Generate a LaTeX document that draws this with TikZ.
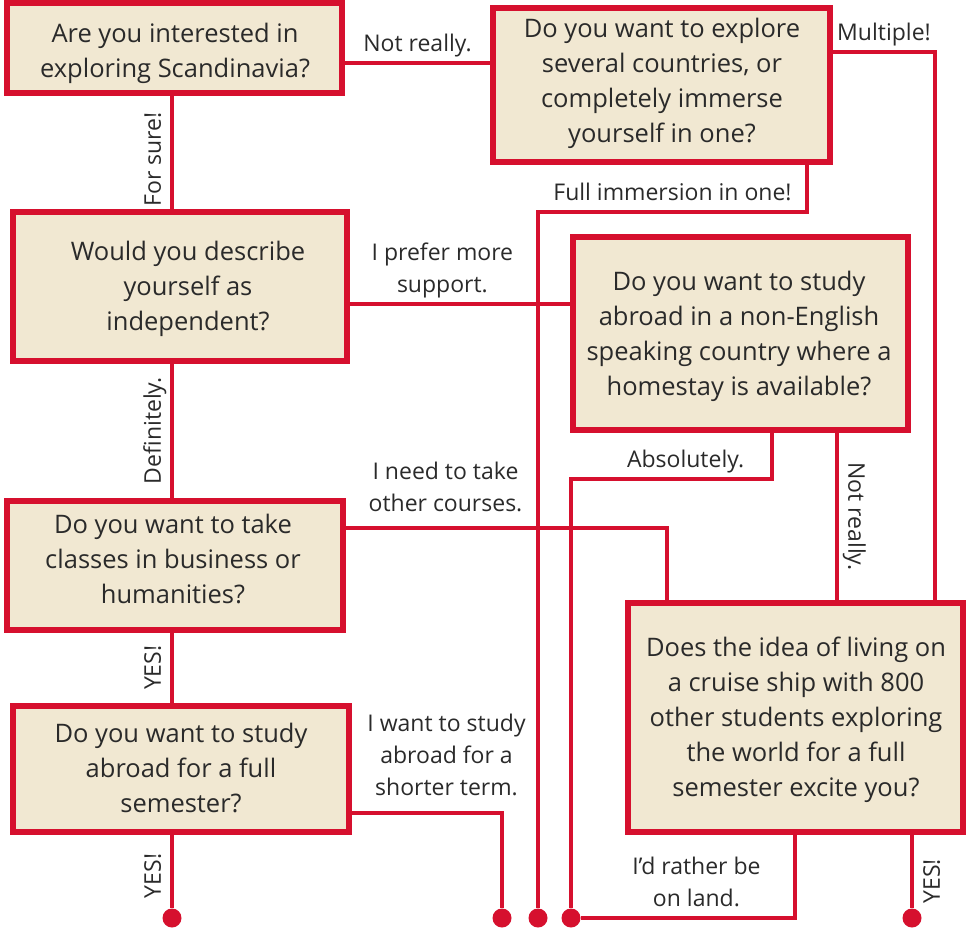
\documentclass[tikz,border=0pt]{standalone}
\usepackage{fontspec}
\setmainfont{Open Sans}
\definecolor{flowred}{HTML}{D6102E}
\definecolor{flowtan}{HTML}{F1E8D2}
\definecolor{flowink}{HTML}{2A2A2A}

\begin{document}
\begin{tikzpicture}[x=1pt, y=-1pt,
  question/.style={draw=flowred, line width=6pt, fill=flowtan, inner sep=0pt},
  qtext/.style={text=flowink, align=center, inner sep=0pt,
    font=\fontsize{25.5}{35}\selectfont},
  link/.style={draw=flowred, line width=4.5pt},
  answer/.style={text=flowink, align=center, inner sep=3pt, text depth=6pt,
    font=\fontsize{23}{32}\selectfont},
  side/.style={answer, text depth=0pt, inner xsep=0pt, inner ysep=9pt},
  ending/.style={circle, fill=flowred, minimum size=19pt, inner sep=0pt}]
  \useasboundingbox (0,0) rectangle (970,932);

  % question boxes
  \node [question, minimum width=335pt, minimum height=90pt]  (scandi)   at (174.5,48)   {};
  \node [question, minimum width=337pt, minimum height=154pt] (explore)  at (661.5,85)   {};
  \node [question, minimum width=334pt, minimum height=149pt] (indep)    at (180,286.5)  {};
  \node [question, minimum width=335pt, minimum height=193pt] (homestay) at (740.5,333.5) {};
  \node [question, minimum width=336pt, minimum height=129pt] (classes)  at (175,565)    {};
  \node [question, minimum width=336pt, minimum height=126pt] (semester) at (181,769)    {};
  \node [question, minimum width=335pt, minimum height=229pt] (cruise)   at (795.5,717.5) {};

  % question texts
  \node [qtext] (scandiText)   at (175,53.5)  {Are you interested in\\exploring Scandinavia?};
  \node [qtext] (exploreText)  at (662,83)    {Do you want to explore\\several countries, or\\completely immerse\\yourself in one?};
  \node [qtext] (indepText)    at (188,289)   {Would you describe\\yourself as\\independent?};
  \node [qtext] (homestayText) at (739,336.5) {Do you want to study\\abroad in a non-English\\speaking country where a\\homestay is available?};
  \node [qtext] (classesText)  at (173,559)   {Do you want to take\\classes in business or\\humanities?};
  \node [qtext] (semesterText) at (181,768)   {Do you want to study\\abroad for a full\\semester?};
  \node [qtext] (cruiseText)   at (796,719.5) {Does the idea of living on\\a cruise ship with 800\\other students exploring\\the world for a full\\semester excite you?};

  % end points
  \node [ending] (endA) at (172,918) {};
  \node [ending] (endB) at (502,918) {};
  \node [ending] (endC) at (538,918) {};
  \node [ending] (endD) at (571,918) {};
  \node [ending] (endE) at (912,918) {};

  % rails
  \coordinate (spine)      at (172,0);
  \coordinate (notY)       at (0,63);
  \coordinate (multiJoin)  at (935,52);
  \coordinate (fullJoin)   at (807,212);
  \coordinate (fullDrop)   at (538,212);
  \coordinate (supportY)   at (0,304);
  \coordinate (absJoin)    at (772,479);
  \coordinate (absDrop)    at (571,479);
  \coordinate (notX)       at (837,0);
  \coordinate (courseJoin) at (667,528);
  \coordinate (shortJoin)  at (502,813);
  \coordinate (landJoin)   at (795,918);

  \draw [link] (scandi.east |- notY) -- node [answer, above] {Not really.} (explore.west |- notY);
  \draw [link] (scandi.south -| spine) -- node [side, pos=0.56, anchor=south, rotate=90] {For sure!} (indep.north -| spine);
  \draw [link] (explore.east |- multiJoin) -- node [answer, above] {Multiple!} (multiJoin) -- (cruise.north -| multiJoin);
  \draw [link] (explore.south -| fullJoin) -- (fullJoin) -- node [answer, above] {Full immersion in one!} (fullDrop) -- (endC);

  \draw [link] (indep.east |- supportY) -- node [answer, above, pos=0.42] {I prefer more\\support.} (homestay.west |- supportY);
  \draw [link] (indep.south -| spine) -- node [side, anchor=south, rotate=90] {Definitely.} (classes.north -| spine);
  \draw [link] (homestay.south -| absJoin) -- (absJoin) -- node [answer, above, pos=0.43] {Absolutely.} (absDrop) -- (endD);
  \draw [link] (homestay.south -| notX) -- node [side, anchor=south, rotate=-90] {Not really.} (cruise.north -| notX);

  \draw [link] (classes.east |- courseJoin) -- node [answer, above=5pt, pos=0.31] {I need to take\\other courses.} (courseJoin) -- (cruise.north -| courseJoin);
  \draw [link] (classes.south -| spine) -- node [side, anchor=south, rotate=90] {YES!} (semester.north -| spine);

  \draw [link] (semester.south -| spine) -- node [side, pos=0.56, anchor=south, rotate=90] {YES!} (endA);
  \draw [link] (semester.east |- shortJoin) -- node [answer, above=6pt, pos=0.63] {I want to study\\abroad for a\\shorter term.} (shortJoin) -- (endB);

  \draw [link] (cruise.south -| landJoin) -- (landJoin) -- node [answer, above, pos=0.46] {I’d rather be\\on land.} (endD);
  \draw [link] (cruise.south -| endE) -- node [side, pos=0.63, anchor=north, rotate=90] {YES!} (endE);
\end{tikzpicture}
\end{document}
